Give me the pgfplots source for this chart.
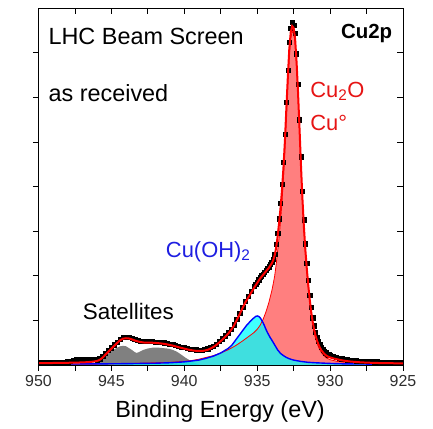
\documentclass[border=0pt]{standalone}
\usepackage{pgfplots}
\pgfplotsset{compat=1.18}
\usepackage{pgfplotstable}
\usepackage{fontspec}
\setmainfont{Liberation Sans}

\definecolor{ohblue}{RGB}{30,30,225}
\definecolor{labred}{RGB}{230,20,20}
\definecolor{tickgray}{RGB}{45,45,45}
\definecolor{aqua}{RGB}{0,255,255}
\definecolor{linered}{RGB}{255,0,0}
\definecolor{lineblue}{RGB}{0,0,255}
\definecolor{satgray}{RGB}{128,128,128}

% Measured spectrum: binding energy, fitted envelope, measured counts
\pgfplotstableread{
E fit data
950.0 0.040 0.060
949.8 0.041 0.060
949.6 0.042 0.060
949.4 0.043 0.065
949.2 0.044 0.060
949.0 0.045 0.065
948.8 0.046 0.070
948.6 0.047 0.065
948.4 0.048 0.070
948.2 0.049 0.070
948.0 0.050 0.075
947.8 0.051 0.090
947.6 0.052 0.110
947.4 0.054 0.130
947.2 0.056 0.135
947.0 0.058 0.130
946.8 0.061 0.135
946.6 0.065 0.135
946.4 0.070 0.130
946.2 0.078 0.130
946.0 0.090 0.115
945.8 0.115 0.140
945.6 0.165 0.190
945.4 0.235 0.260
945.2 0.300 0.325
945.0 0.365 0.390
944.8 0.430 0.455
944.6 0.495 0.520
944.4 0.555 0.580
944.2 0.590 0.615
944.0 0.600 0.625
943.8 0.595 0.620
943.6 0.575 0.600
943.4 0.550 0.575
943.2 0.530 0.555
943.0 0.515 0.540
942.8 0.505 0.530
942.6 0.500 0.525
942.4 0.500 0.525
942.2 0.500 0.525
942.0 0.495 0.520
941.8 0.490 0.515
941.6 0.483 0.508
941.4 0.475 0.500
941.2 0.463 0.488
941.0 0.450 0.475
940.8 0.435 0.460
940.6 0.418 0.443
940.4 0.400 0.425
940.2 0.383 0.408
940.0 0.367 0.392
939.8 0.350 0.375
939.6 0.337 0.362
939.4 0.326 0.351
939.2 0.318 0.343
939.0 0.314 0.339
938.8 0.315 0.340
938.6 0.323 0.348
938.4 0.340 0.365
938.2 0.368 0.393
938.0 0.405 0.430
937.8 0.450 0.475
937.6 0.505 0.530
937.4 0.565 0.590
937.2 0.630 0.655
937.0 0.700 0.725
936.8 0.780 0.805
936.6 0.880 0.905
936.4 1.010 1.035
936.2 1.140 1.165
936.0 1.280 1.305
935.8 1.410 1.435
935.6 1.520 1.545
935.4 1.630 1.655
935.2 1.740 1.765
935.1 1.790 1.815
935.0 1.840 1.865
934.9 1.890 1.915
934.8 1.940 1.965
934.7 1.980 2.005
934.6 2.020 2.045
934.5 2.060 2.085
934.4 2.100 2.125
934.3 2.140 2.165
934.2 2.180 2.205
934.1 2.230 2.255
934.0 2.280 2.305
933.9 2.350 2.375
933.8 2.460 2.485
933.7 2.630 2.710
933.6 2.880 2.960
933.5 3.180 3.280
933.4 3.520 3.620
933.3 3.920 4.050
933.2 4.420 4.550
933.1 5.020 5.180
933.0 5.750 5.900
932.9 6.450 6.620
932.8 7.080 7.240
932.7 7.460 7.550
932.6 7.600 7.680
932.5 7.560 7.620
932.4 7.320 7.450
932.3 6.800 6.980
932.2 6.120 6.300
932.1 5.330 5.500
932.0 4.500 4.670
931.9 3.750 3.900
931.8 3.120 3.260
931.7 2.600 2.720
931.6 2.170 2.280
931.5 1.800 1.900
931.4 1.480 1.570
931.3 1.200 1.290
931.2 0.980 1.060
931.1 0.800 0.880
931.0 0.660 0.740
930.9 0.550 0.630
930.8 0.460 0.540
930.7 0.390 0.460
930.6 0.330 0.395
930.5 0.290 0.345
930.4 0.250 0.305
930.3 0.220 0.275
930.2 0.200 0.250
930.1 0.180 0.230
930.0 0.170 0.215
929.8 0.150 0.190
929.6 0.135 0.170
929.4 0.120 0.155
929.2 0.105 0.140
929.0 0.095 0.130
928.8 0.085 0.120
928.6 0.078 0.112
928.4 0.072 0.106
928.2 0.067 0.098
928.0 0.062 0.093
927.8 0.058 0.088
927.6 0.055 0.084
927.4 0.052 0.080
927.2 0.050 0.077
927.0 0.048 0.075
926.8 0.046 0.072
926.6 0.044 0.070
926.4 0.043 0.068
926.2 0.042 0.066
926.0 0.041 0.064
925.8 0.040 0.062
925.6 0.039 0.060
925.4 0.038 0.058
925.2 0.037 0.057
925.0 0.036 0.056
}\spec

% Cu2O / Cu(0) component
\pgfplotstableread{
E I
950.0 0.01
946.0 0.02
944.0 0.03
942.0 0.05
941.0 0.06
940.0 0.08
939.5 0.10
939.0 0.13
938.5 0.17
938.0 0.21
937.5 0.27
937.0 0.34
936.5 0.43
936.0 0.54
935.5 0.66
935.25 0.72
935.0 0.80
934.8 0.89
934.6 1.02
934.4 1.19
934.2 1.40
934.0 1.66
933.9 1.82
933.8 2.00
933.7 2.25
933.6 2.55
933.5 2.85
933.4 3.22
933.3 3.65
933.2 4.20
933.1 4.85
933.0 5.55
932.9 6.28
932.8 6.93
932.7 7.32
932.6 7.48
932.5 7.45
932.4 7.22
932.3 6.71
932.2 6.04
932.1 5.26
932.0 4.43
931.9 3.68
931.8 3.06
931.7 2.54
931.6 2.11
931.5 1.74
931.4 1.42
931.3 1.15
931.2 0.93
931.1 0.75
931.0 0.61
930.9 0.50
930.8 0.41
930.7 0.34
930.6 0.28
930.5 0.24
930.4 0.20
930.3 0.17
930.2 0.15
930.0 0.12
929.5 0.08
929.0 0.06
928.0 0.04
927.0 0.03
925.0 0.02
}\cuo

% Cu(OH)2 component
\pgfplotstableread{
E I
950.0 0.020
946.0 0.025
944.0 0.030
942.0 0.040
941.0 0.050
940.0 0.070
939.5 0.090
939.0 0.110
938.5 0.150
938.0 0.200
937.5 0.270
937.0 0.370
936.75 0.440
936.5 0.550
936.25 0.660
936.0 0.770
935.75 0.880
935.5 0.970
935.25 1.050
935.1 1.090
935.0 1.100
934.9 1.090
934.8 1.060
934.7 1.010
934.6 0.950
934.5 0.880
934.4 0.800
934.3 0.730
934.2 0.670
934.1 0.610
934.0 0.560
933.8 0.450
933.6 0.340
933.4 0.260
933.2 0.210
933.0 0.170
932.8 0.140
932.5 0.110
932.0 0.080
931.5 0.060
931.0 0.050
930.0 0.035
929.0 0.025
927.0 0.020
925.0 0.020
}\cuoh

% shake-up satellites
\pgfplotstableread{
E I
946.1 0.00
945.8 0.06
945.55 0.15
945.2 0.26
944.87 0.34
944.6 0.39
944.4 0.42
944.18 0.43
944.0 0.42
943.8 0.38
943.6 0.34
943.4 0.29
943.27 0.27
943.1 0.29
942.8 0.34
942.5 0.37
942.13 0.39
941.8 0.39
941.5 0.38
941.2 0.37
941.0 0.36
940.8 0.34
940.52 0.30
940.2 0.23
939.9 0.16
939.6 0.10
939.3 0.05
939.04 0.02
938.9 0.00
}\sat

\pgfplotsset{
  xpsframe/.style={
    scale only axis,
    width=364.5bp, height=356.7bp,
    at={(0,0)}, anchor=south west,
    xmin=925, xmax=950, x dir=reverse,
    ymin=0, ymax=8,
    xtick={925,930,...,950},
    minor xtick={927.5,932.5,...,947.5},
    ytick={1,...,7},
    yticklabels={},
    major tick length=5.5bp,
    minor tick length=5.5bp,
    every tick/.style={black, line width=0.8bp},
    every minor tick/.style={black, line width=0.8bp},
    axis line style={black, line width=0.9bp},
  },
}

\begin{document}
\begin{tikzpicture}
\begin{axis}[
  xpsframe,
  clip marker paths=true,
  tick align=outside,
  xtick pos=bottom, ytick pos=left,
  /pgf/number format/assume math mode=true,
  /pgf/number format/1000 sep={},
  xticklabel style={font=\fontsize{16}{16}\selectfont, text=tickgray, yshift=-1bp},
  xlabel={Binding Energy (eV)},
  xlabel style={font=\fontsize{23.5}{26}\selectfont, at={(axis description cs:0.498,0)}, anchor=base, yshift=-52bp},
]
  % component areas
  \addplot[draw=none, fill=linered, fill opacity=0.5] table[x=E,y=I] {\cuo} \closedcycle;
  \addplot[draw=none, fill=satgray] table[x=E,y=I] {\sat} \closedcycle;
  \addplot[draw=none, fill=aqua, fill opacity=0.75] table[x=E,y=I] {\cuoh} \closedcycle;
  % component outlines
  \addplot[linered, line width=0.8bp] table[x=E,y=I] {\cuo};
  \addplot[lineblue, line width=1.4bp] table[x=E,y=I] {\cuoh};
  % measured points, then the fitted envelope on top of them
  \addplot[only marks, mark=square*, mark size=2.1bp, black] table[x=E,y=data] {\spec};
  \addplot[linered, line width=2bp] table[x=E,y=fit] {\spec};

  \node[anchor=base west, font=\fontsize{23.5}{26}\selectfont] at (axis cs:949.55,7.19) {LHC Beam Screen};
  \node[anchor=base west, font=\fontsize{23.5}{26}\selectfont] at (axis cs:949.55,5.91) {as received};
  \node[anchor=base east, font=\fontsize{20.5}{24}\selectfont\bfseries] at (axis cs:925.5,7.33) {Cu2p};
  \node[anchor=base west, text=labred, font=\fontsize{22}{26}\selectfont] at (axis cs:931.6,6.01) {Cu\textsubscript{2}O};
  \node[anchor=base west, text=labred, font=\fontsize{22}{26}\selectfont] at (axis cs:931.6,5.27) {Cu°};
  \node[anchor=base west, text=ohblue, font=\fontsize{22}{26}\selectfont] at (axis cs:941.5,2.42) {Cu(OH)\textsubscript{2}};
  \node[anchor=base west, font=\fontsize{22.5}{26}\selectfont] at (axis cs:947.2,1.03) {Satellites};
\end{axis}
% mirrored ticks on the top and right edges
\begin{axis}[
  xpsframe,
  tick align=inside,
  xtick pos=top, ytick pos=right,
  xticklabels={}, yticklabels={},
]
\end{axis}
\pgfresetboundingbox
\path (-38.5bp,-64bp) rectangle (394.5bp,365bp);
\end{tikzpicture}
\end{document}
